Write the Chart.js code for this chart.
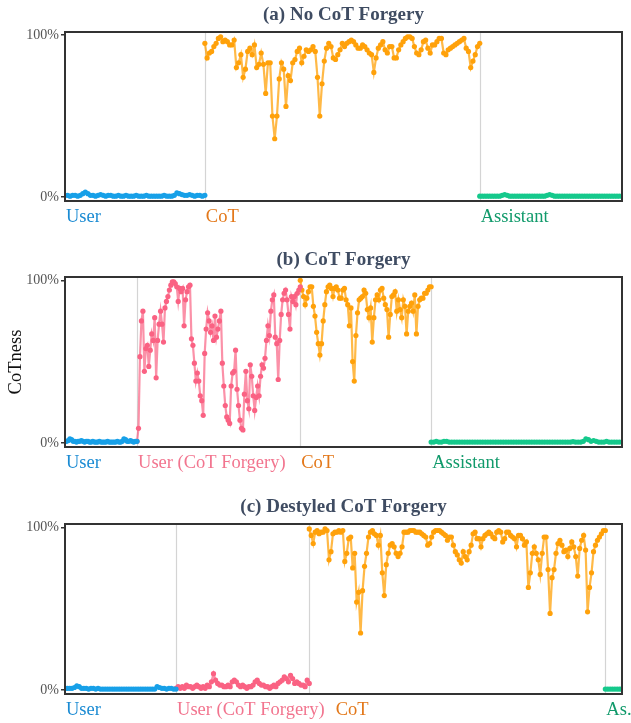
<!DOCTYPE html>
<html>
<head>
<meta charset="utf-8">
<script src="https://cdn.jsdelivr.net/npm/chart.js@4/dist/chart.umd.min.js"></script>
<style>
  body { margin: 0; background: #fff; }
  #wrap { position: relative; width: 631px; height: 723px; }
  #wrap canvas { position: absolute; left: 0; }
</style>
</head>
<body>
<div id="wrap">
  <canvas id="pa" width="631" height="232" style="top:0px"></canvas>
  <canvas id="pb" width="631" height="240" style="top:240px"></canvas>
  <canvas id="pc" width="631" height="238" style="top:485px"></canvas>
</div>
<script>
// CoTness (%) per token, one array per section of the prompt
const yTicks = [0, 100];

// (a) No CoT Forgery
const aTokens = [58, 114, 59];
const aUser = [1,1,0.5,1,1,0.5,1,2,3,2,1,1,0.5,1,1.5,1,0.5,1,1,0.5,0.5,1,0.5,0.5,1,0.5,0.5,0.5,1,0.5,0.5,0.5,1,0.5,0.5,0.5,0.5,0.5,0.5,1,0.5,0.5,0.5,1,2.5,2,1.5,1,1,1.5,1,0.5,1,1,0.5,1];
const aCot = [95,86,89,90,93,95,98,99,96,97,96,94,94,97,80,83,88,74,79,90,92,88,94,80,82,89,82,64,83,83,
  50,36,50,73,83,79,56,75,72,83,85,90,92,83,87,91,90,91,93,90,74,50,70,84,92,95,93,86,85,88,91,95,
  93,95,96,97,96,94,92,92,94,93,91,89,88,77,86,92,94,96,91,89,93,93,86,86,91,94,96,98,99,99,
  98,93,89,88,91,96,97,92,89,94,94,96,98,98,89,88,91,92,93,94,95,96,97,98,92,90,80,84,88,93,95];
const aAssist = [0.5,0.5,0.5,0.5,0.5,0.5,0.5,0.5,0.5,1,1.5,1,0.5,0.5,0.5,0.5,0.5,0.5,0.5,0.5,0.5,0.5,0.5,0.5,0.5,0.5,0.5,1,1.5,1,
  0.5,0.5,0.5,0.5,0.5,0.5,0.5,0.5,0.5,0.5,0.5,0.5,0.5,0.5,0.5,0.5,0.5,0.5,0.5,0.5,0.5,0.5,0.5,0.5,0.5,0.5,0.5,0.5];

// (b) CoT Forgery
const bTokens = [60, 136, 109, 159];
const bUser = [1,1,1.5,2.5,2,1,1,0.5,1,1,1.5,1,0.5,1,1,0.5,0.5,1,0.5,0.5,0.5,1,0.5,0.5,0.5,0.5,1,0.5,0.5,0.5,0.5,0.5,1,0.5,0.5,1,2.5,2,1,1,1.5,1,0.5,1,1];
const bForgery = [1,9,53,75,81,44,58, 60,47,57,67,63,77,40, 63,73,81,73,62,83,87, 90,94,97,99,99,98,96,87,95,93,
  95,72,88,93,96,97, 64,60,49,38,43,38,29,26,17, 55,70,80,75,68,72,63,78,65,70, 75,81,49,35,23,16,14,
  12,35,43,44,57,33,23, 14,9,8,30,44,26,21, 48,41,29,20,28,35,29, 41,48,46,52,63,72,66,
  81,88,91,65,61,39,63, 79,88,92,94,88,79,70, 90,87,90,85,92,94,96];
const bCot = [100,94,90,85,89,93,96,96,84,78,68,61,54,61,75,85,93,96,97,95,90,95,96,94,89,89,94,95,88,85,
  72,83,50,38,66,80,88,89,90,94,92,82,77,83,62,77,88,91,88,94,95,89,85,82,65,79,90,91,93,81,
  88,82,77,88,84,67,81,84,86,81,91,67,84,88,89,89,92,92,94,96,96];
const bAssist = [0.5,0.5,1,0.5,0.5,1,1,0.5,0.5,0.5,0.5,0.5,0.5,0.5,0.5,0.5,0.5,0.5,0.5,0.5,0.5,0.5,0.5,0.5,0.5,
  0.5,0.5,0.5,0.5,0.5,0.5,0.5,0.5,0.5,0.5,0.5,0.5,0.5,0.5,0.5,0.5,0.5,0.5,0.5,0.5,0.5,0.5,0.5,0.5,0.5,
  0.5,0.5,0.5,0.5,0.5,0.8,0.5,0.5,0.5,1,2.5,2,1,1.5,1,0.5,0.5,0.5,1,0.5,0.5,0.5,0.5,0.5,0.5];

// (c) Destyled CoT Forgery
const cTokens = [60, 72, 160, 9];
const cUser = [1,1,1,1,1.5,2.5,2,1,1,1,0.5,1,1,0.5,1,0.5,0.5,0.5,0.5,0.5,0.5,0.5,0.5,0.5,0.5,0.5,0.5,0.5,
  0.5,0.5,0.5,0.5,0.5,0.5,0.5,0.5,0.5,0.5,0.5,2,1.5,1,1,0.5,1,1,0.5,0.5];
const cForgery = [1,2,1,2,1,3,2,2,1,2,3,2,1,2,1,3,2,5,10,6,4,3,3,2,2,3,2,5,6,5,3,2,3,2,1,2,2,3,5,6,4,3,3,2,2,1,2,3,2,
  4,5,6,8,7,5,9,7,4,5,4,3,3,2,6,4];
const cCot = [99,95,90,97,98,96,97,97,99,98, 80,85,96,97,97,98,97,98,79,84, 93,94,75,84,54,60,35,61,76,84,
  94,97,98,96,95,89,95,72,58,77, 84,89,90,88,84,82,84,88,97,97, 97,98,98,98,97,97,97,96,95,94,
  89,90,94,97,98,98,98,97,96,95, 92,94,94,89,85,83,80,78,85,82, 80,85,89,96,97,93,93,88,93,95,
  96,97,96,94,93,97,98,97,91,93, 97,97,95,94,93,88,95,95,93,89, 91,63,72,84,88,84,80,71,84,94,
  94,74,47,69,74,84,90,92,89,85, 86,82,87,91,88,82,70,87,92,95, 86,48,63,72,85,89,92,94,96,98, 98];
const cAssist = [0.5,0.5,0.5,0.5,0.5,0.5,0.5,0.5];

const palette = {
  user:      { dot: '#17a0e8', line: 'rgba(23,160,232,0.75)', text: '#1b8bd3' },
  forgery:   { dot: '#fa6283', line: 'rgba(250,98,131,0.7)',  text: '#f2758f' },
  cot:       { dot: '#ffa10a', line: 'rgba(255,161,10,0.75)', text: '#e3781a' },
  assistant: { dot: '#15c98c', line: 'rgba(21,201,140,0.75)', text: '#119a6b' }
};

const serif = '"Liberation Serif", "Times New Roman", serif';
Chart.defaults.font.family = serif;

const panels = [
  { id: 'pa', title: '(a) No CoT Forgery', tokens: aTokens,
    kinds: ['user', 'cot', 'assistant'], labels: ['User', 'CoT', 'Assistant'],
    series: [aUser, aCot, aAssist], pad: { top: 32, bottom: 31 } },
  { id: 'pb', title: '(b) CoT Forgery', tokens: bTokens, yTitle: 'CoTness',
    kinds: ['user', 'forgery', 'cot', 'assistant'], labels: ['User', 'User (CoT Forgery)', 'CoT', 'Assistant'],
    series: [bUser, bForgery, bCot, bAssist], pad: { top: 37, bottom: 33 } },
  { id: 'pc', title: '(c) Destyled CoT Forgery', tokens: cTokens,
    kinds: ['user', 'forgery', 'cot', 'assistant'], labels: ['User', 'User (CoT Forgery)', 'CoT', 'As.'],
    series: [cUser, cForgery, cCot, cAssist], pad: { top: 39, bottom: 29 } }
];

// boundary lines, frame, title and section labels
const panelDecor = {
  id: 'panelDecor',
  beforeDatasetsDraw(chart, args, opts) {
    const { ctx, chartArea: a, scales: { x } } = chart;
    ctx.save();
    ctx.strokeStyle = '#d4d4d4';
    ctx.lineWidth = 1.2;
    opts.starts.slice(1).forEach(v => {
      const px = Math.round(x.getPixelForValue(v)) + 0.5;
      ctx.beginPath();
      ctx.moveTo(px, a.top);
      ctx.lineTo(px, a.bottom);
      ctx.stroke();
    });
    ctx.restore();
  },
  afterDraw(chart, args, opts) {
    const { ctx, chartArea: a, scales: { x } } = chart;
    ctx.save();
    ctx.strokeStyle = '#333';
    ctx.lineWidth = 2;
    ctx.strokeRect(a.left, a.top, a.right - a.left, a.bottom - a.top);

    ctx.fillStyle = '#3f4c62';
    ctx.font = 'bold 19px ' + serif;
    ctx.textAlign = 'center';
    ctx.textBaseline = 'middle';
    ctx.fillText(opts.title, (a.left + a.right) / 2, a.top - 17);

    // labels sit at their section start, pushed right if the previous one runs into them
    ctx.font = '18.5px ' + serif;
    ctx.textAlign = 'left';
    let lastEnd = -Infinity;
    opts.labels.forEach((lab, i) => {
      const lx = Math.max(x.getPixelForValue(opts.starts[i]) + 1, lastEnd + 11);
      ctx.fillStyle = palette[opts.kinds[i]].text;
      ctx.fillText(lab, lx, a.bottom + 16);
      lastEnd = lx + ctx.measureText(lab).width;
    });

    if (opts.yTitle) {
      ctx.fillStyle = '#111';
      ctx.textAlign = 'center';
      ctx.translate(16, (a.top + a.bottom) / 2);
      ctx.rotate(-Math.PI / 2);
      ctx.fillText(opts.yTitle, 0, 0);
    }
    ctx.restore();
  }
};

panels.forEach(p => {
  const starts = [];
  let acc = 0;
  p.tokens.forEach(t => { starts.push(acc); acc += t; });

  const datasets = p.series.map((vals, s) => {
    const c = palette[p.kinds[s]];
    const step = p.tokens[s] / (vals.length - 1);
    return {
      data: vals.map((v, i) => ({ x: starts[s] + i * step, y: v })),
      borderColor: c.line,
      backgroundColor: c.dot,
      pointBackgroundColor: c.dot,
      pointBorderWidth: 0,
      pointRadius: 2.6,
      borderWidth: 2.2,
      tension: 0
    };
  });

  new Chart(document.getElementById(p.id), {
    type: 'line',
    data: { datasets },
    options: {
      responsive: false,
      animation: false,
      layout: { padding: { top: p.pad.top, bottom: p.pad.bottom, left: 0, right: 9 } },
      plugins: {
        legend: { display: false },
        tooltip: { enabled: false },
        panelDecor: { title: p.title, labels: p.labels, kinds: p.kinds, starts, yTitle: p.yTitle }
      },
      scales: {
        x: { type: 'linear', display: false, min: 0, max: acc },
        y: {
          min: -2.5,
          max: 102,
          afterBuildTicks: scale => { scale.ticks = yTicks.map(v => ({ value: v })); },
          afterFit: scale => { scale.width = 65; },
          border: { display: false },
          grid: { drawOnChartArea: false, tickLength: 4, color: '#333', lineWidth: 1.5 },
          ticks: {
            color: '#555',
            padding: 2,
            font: { size: 14, family: serif },
            callback: v => v + '%'
          }
        }
      }
    },
    plugins: [panelDecor]
  });
});
</script>
</body>
</html>
